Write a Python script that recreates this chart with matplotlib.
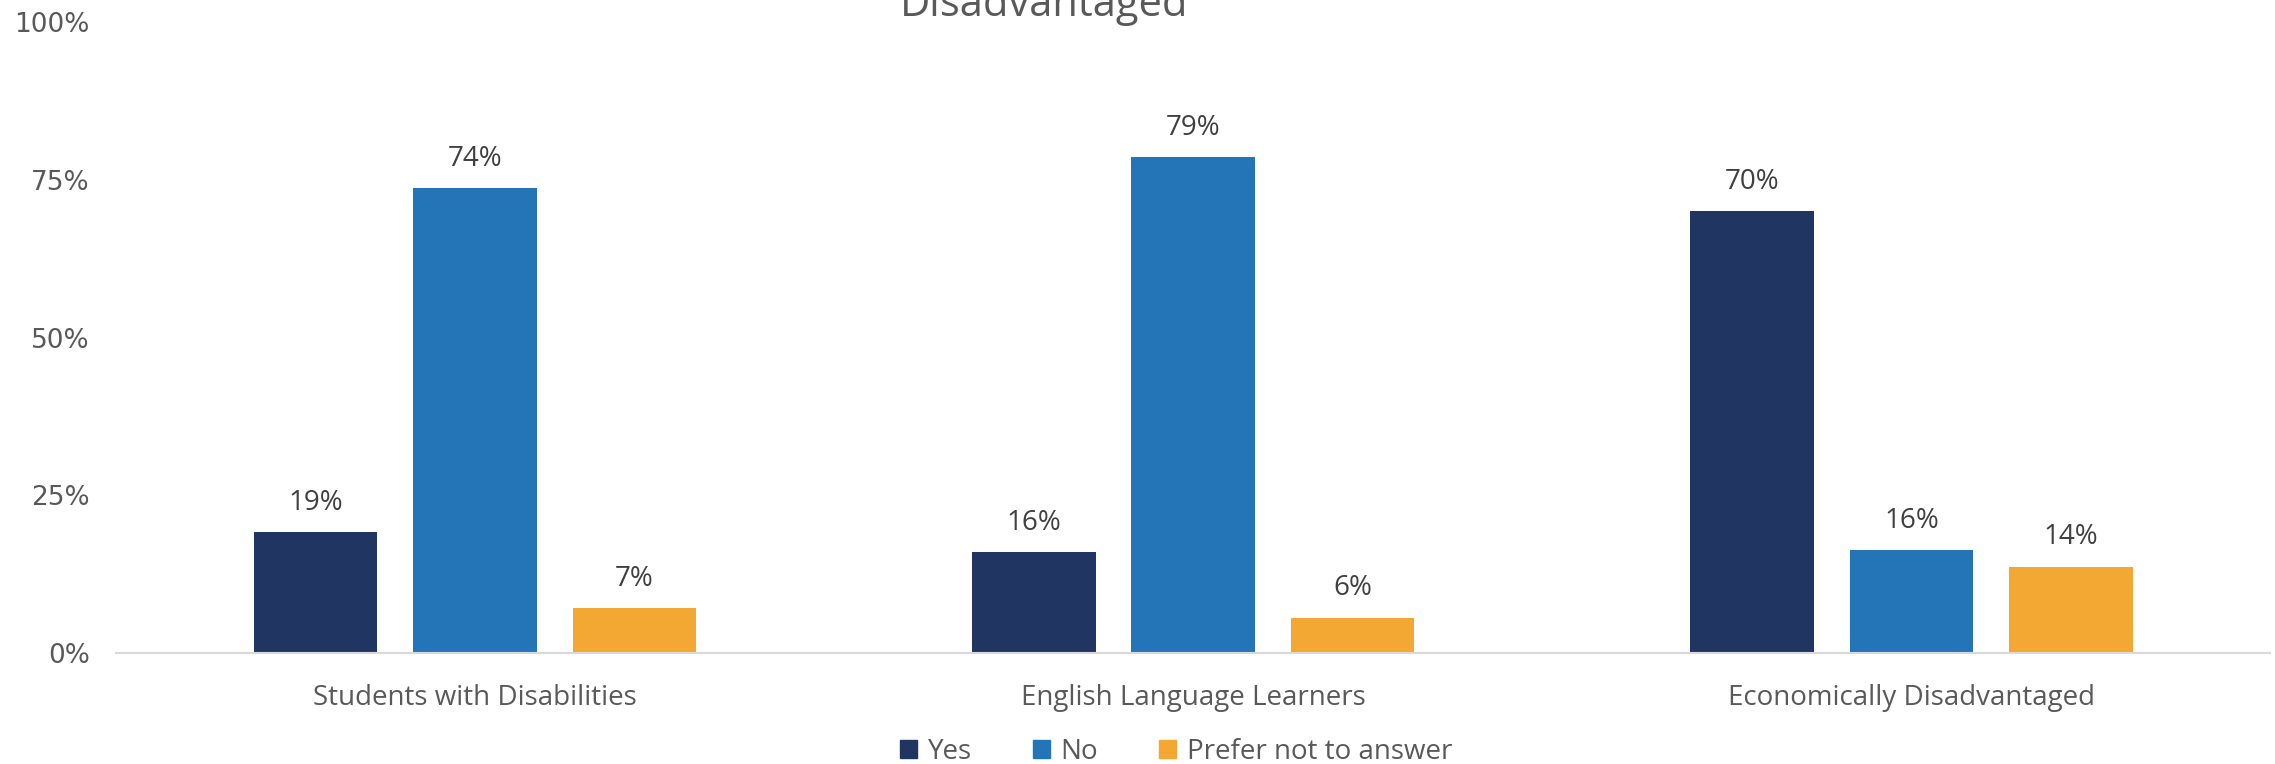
import numpy as np
import matplotlib
matplotlib.use("Agg")
import matplotlib.pyplot as plt
from matplotlib.patches import Patch

plt.rcParams['font.family'] = ['Open Sans', 'DejaVu Sans']

categories = ["Students with Disabilities", "English Language Learners", "Economically Disadvantaged"]
series_names = ["Yes", "No", "Prefer not to answer"]
yes_vals = [19.2, 16.0, 70.0]
no_vals = [73.7, 78.6, 16.3]
prefer_vals = [7.1, 5.6, 13.7]
y_ticks = [0, 25, 50, 75, 100]

colors = ['#203562', '#2475B7', '#F3A833']
grey = '#595959'

fig = plt.figure(figsize=(22.75, 7.64), dpi=100)
ax = fig.add_axes([0.051, 0.1453, 0.947, 0.8257])

x = np.arange(len(categories))
width = 0.172
step = 0.222
for i, (vals, c) in enumerate(zip([yes_vals, no_vals, prefer_vals], colors)):
    bars = ax.bar(x + (i - 1) * step, vals, width, color=c)
    for b, v in zip(bars, vals):
        ax.annotate(f"{v:.0f}%", (b.get_x() + b.get_width() / 2, v),
                    xytext=(0, 11), textcoords='offset points',
                    ha='center', va='bottom', fontsize=20, color='#404040')

ax.set_xlim(-0.5, 2.5)
ax.set_ylim(0, 100)
ax.set_yticks(y_ticks)
ax.set_yticklabels([f"{t}%" for t in y_ticks], family='DejaVu Sans', fontsize=19)
ax.set_xticks(x)
ax.set_xticklabels(categories)
ax.tick_params(axis='both', length=0, labelcolor=grey)
ax.tick_params(axis='x', labelsize=20, pad=22)
ax.tick_params(axis='y', pad=19)
for s in ['top', 'right', 'left']:
    ax.spines[s].set_visible(False)
ax.spines['bottom'].set_color('#D9D9D9')
ax.spines['bottom'].set_linewidth(1.5)

# second title line, the rest sits above the canvas
fig.text(0.459, 0.979, "Disadvantaged", ha='center', va='baseline',
         fontsize=30, color=grey)

handles = [Patch(color=c, label=n) for c, n in zip(colors, series_names)]
fig.legend(handles=handles, loc='lower center', bbox_to_anchor=(0.517, -0.035),
           ncol=3, frameon=False, fontsize=20, labelcolor=grey,
           handlelength=0.6, handleheight=0.6, handletextpad=0.4, columnspacing=2.2)

fig.savefig("out.png", dpi=100)
